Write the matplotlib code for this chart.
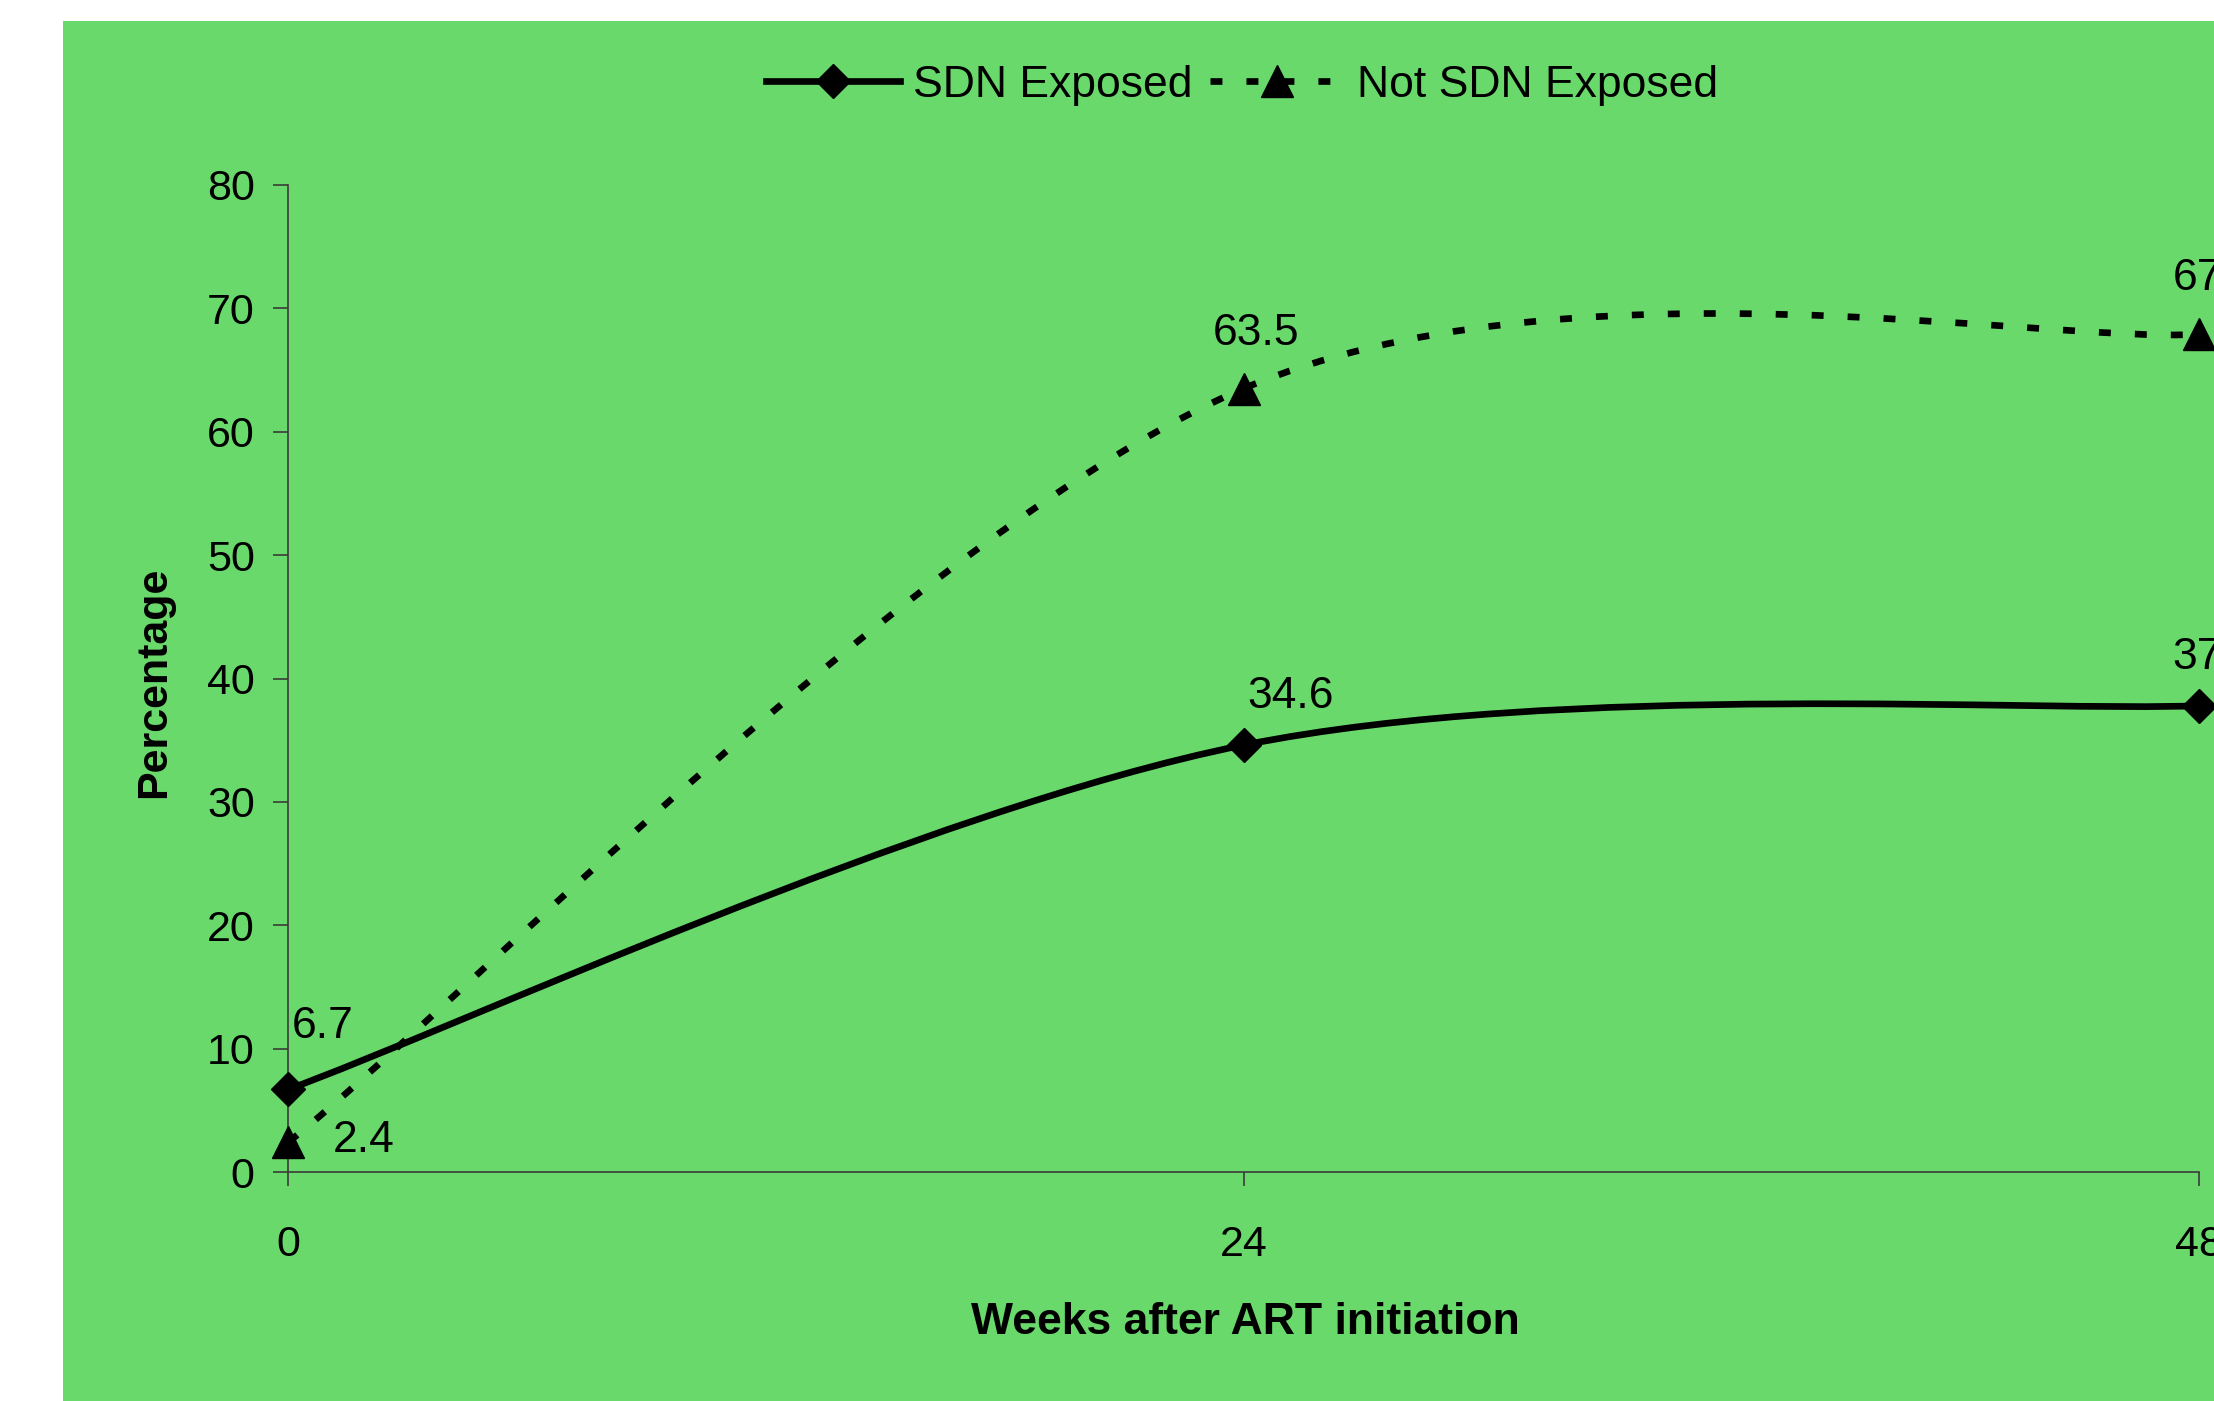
"""Percentage by weeks after ART initiation, SDN exposed vs not exposed."""

import matplotlib

matplotlib.use("Agg")
import matplotlib.pyplot as plt  # noqa: E402
from matplotlib.lines import Line2D  # noqa: E402
from matplotlib.patches import PathPatch, Rectangle  # noqa: E402
from matplotlib.path import Path  # noqa: E402

weeks = [0, 24, 48]
sdn_exposed = [6.7, 34.6, 37.8]
not_sdn_exposed = [2.4, 63.5, 67.9]
series_names = ["SDN Exposed", "Not SDN Exposed"]
y_ticks = [0, 10, 20, 30, 40, 50, 60, 70, 80]
x_ticks = [0, 24, 48]

BG = "#6ad96b"
AXC = "#3a3a3a"
plt.rcParams["font.family"] = ["Liberation Sans", "DejaVu Sans"]


def smooth_path(xs, ys):
    """Excel-like smoothed line: cubic Bezier through the points."""
    n = len(xs)
    verts = [(xs[0], ys[0])]
    codes = [Path.MOVETO]
    for i in range(n - 1):
        i0 = max(i - 1, 0)
        i3 = min(i + 2, n - 1)
        c1 = (xs[i] + (xs[i + 1] - xs[i0]) / 6, ys[i] + (ys[i + 1] - ys[i0]) / 6)
        c2 = (xs[i + 1] - (xs[i3] - xs[i]) / 6, ys[i + 1] - (ys[i3] - ys[i]) / 6)
        verts += [c1, c2, (xs[i + 1], ys[i + 1])]
        codes += [Path.CURVE4] * 3
    return Path(verts, codes)


fig = plt.figure(figsize=(22.14, 14.01), dpi=100, facecolor="white")
fig.add_artist(Rectangle((63 / 2214, 0), 1, 1 - 21 / 1401, transform=fig.transFigure,
                         facecolor=BG, edgecolor="none", zorder=-10))

ax = fig.add_axes([288 / 2214, 1 - 1172 / 1401, (2199 - 288) / 2214, (1172 - 185) / 1401])
ax.set_facecolor("none")
ax.set_xlim(0, 48)
ax.set_ylim(0, 80)
for side in ("top", "right"):
    ax.spines[side].set_visible(False)
for side in ("left", "bottom"):
    ax.spines[side].set_color(AXC)
    ax.spines[side].set_linewidth(1.2)
ax.set_xticks(x_ticks)
ax.set_yticks(y_ticks)
ax.tick_params(axis="y", direction="out", length=11, width=1.2, color=AXC,
               labelsize=31, pad=13)
ax.tick_params(axis="x", direction="out", length=10, width=1.2, color=AXC,
               labelsize=31, pad=28)

lw = 4.8
dash = (0, (8.6 / lw, 17.3 / lw))
ax.add_patch(PathPatch(smooth_path(weeks, sdn_exposed), fill=False, edgecolor="black",
                       linewidth=lw, capstyle="butt", zorder=3))
ax.add_patch(PathPatch(smooth_path(weeks, not_sdn_exposed), fill=False, edgecolor="black",
                       linewidth=lw, linestyle=dash, capstyle="butt", zorder=3))
ax.plot(weeks, sdn_exposed, ls="none", marker="D", ms=17, color="black",
        clip_on=False, zorder=4)
ax.plot(weeks, not_sdn_exposed, ls="none", marker="^", ms=23, color="black",
        clip_on=False, zorder=4)

# data labels (offsets in points)
label_offsets_sdn = [(3, 45, "left"), (3, 35, "left"), (-19, 35, "left")]
label_offsets_not = [(32, 1.5, "left"), (9, 40, "center"), (-19, 40, "left")]
for vals, offs in ((sdn_exposed, label_offsets_sdn), (not_sdn_exposed, label_offsets_not)):
    for x, y, (dx, dy, ha) in zip(weeks, vals, offs):
        ax.annotate(f"{y:.1f}", (x, y), xytext=(dx, dy), textcoords="offset points",
                    ha=ha, va="center", fontsize=32, annotation_clip=False)

handles = [
    Line2D([], [], color="black", lw=lw, marker="D", ms=17),
    Line2D([], [], color="black", lw=lw, ls=dash, dash_capstyle="butt", marker="^", ms=23),
]
fig.legend(handles, series_names, loc="center", bbox_to_anchor=(0.561, 0.939), ncol=2,
           frameon=False, fontsize=32, handlelength=3.0, handletextpad=0.3,
           columnspacing=0.4, markerscale=1.0)

fig.text(1245 / 2214, 1 - 1322 / 1401, "Weeks after ART initiation", ha="center",
         va="center", fontsize=32, fontweight="bold")
fig.text(154 / 2214, 1 - 682 / 1401, "Percentage", ha="center", va="center",
         rotation=90, fontsize=31, fontweight="bold")

fig.savefig("out.png", dpi=100, facecolor="white")
